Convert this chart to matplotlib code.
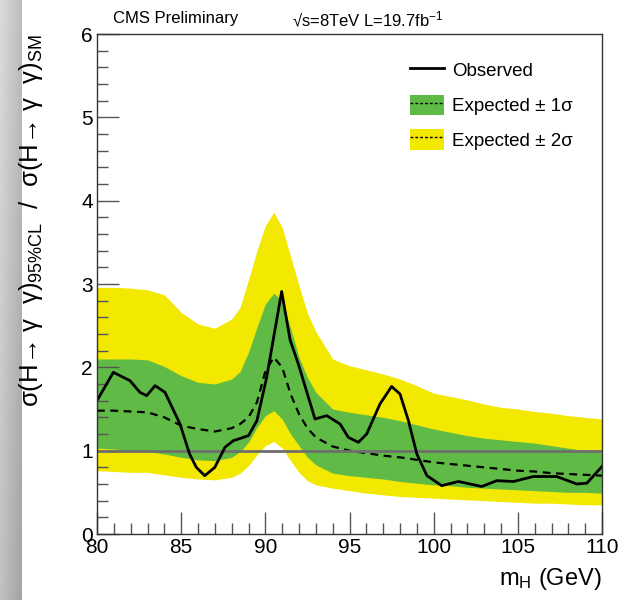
import numpy as np
import matplotlib
matplotlib.use("Agg")
import matplotlib.pyplot as plt
from matplotlib.lines import Line2D
from matplotlib.patches import Patch
from matplotlib.ticker import MultipleLocator

plt.rcParams['font.family'] = ['Liberation Sans', 'DejaVu Sans']
plt.rcParams['mathtext.fontset'] = 'custom'
plt.rcParams['mathtext.rm'] = 'Liberation Sans'
plt.rcParams['mathtext.it'] = 'Liberation Sans'
plt.rcParams['mathtext.sf'] = 'Liberation Sans'

# ---- data ----
mass_band = [80, 81, 82, 83, 84, 85, 86, 87, 88, 88.5, 89, 89.5, 90, 90.5, 91, 91.5,
             92, 92.5, 93, 94, 95, 96, 97, 98, 99, 100, 101, 102, 103, 104, 105,
             106, 107, 108, 109, 110]
exp_median = [1.48, 1.48, 1.47, 1.46, 1.40, 1.30, 1.26, 1.23, 1.27, 1.32, 1.40, 1.58,
              1.95, 2.12, 2.00, 1.68, 1.44, 1.27, 1.16, 1.05, 1.00, 0.97, 0.94, 0.92,
              0.89, 0.86, 0.84, 0.82, 0.80, 0.78, 0.76, 0.75, 0.73, 0.72, 0.71, 0.70]
exp_1sig_up = [2.10, 2.10, 2.10, 2.09, 2.01, 1.90, 1.82, 1.80, 1.86, 1.95, 2.18, 2.48,
               2.76, 2.89, 2.80, 2.47, 2.12, 1.88, 1.70, 1.50, 1.46, 1.43, 1.40, 1.36,
               1.31, 1.26, 1.22, 1.18, 1.15, 1.13, 1.11, 1.09, 1.06, 1.03, 1.00, 0.98]
exp_1sig_dn = [1.03, 1.02, 1.00, 0.99, 0.96, 0.92, 0.89, 0.88, 0.92, 0.99, 1.10, 1.28,
               1.42, 1.48, 1.38, 1.20, 1.06, 0.92, 0.83, 0.73, 0.70, 0.68, 0.66, 0.63,
               0.61, 0.59, 0.58, 0.56, 0.55, 0.54, 0.53, 0.52, 0.51, 0.50, 0.50, 0.49]
exp_2sig_up = [2.96, 2.96, 2.95, 2.93, 2.87, 2.66, 2.52, 2.47, 2.58, 2.72, 3.05, 3.40,
               3.70, 3.86, 3.68, 3.33, 2.98, 2.65, 2.43, 2.10, 2.02, 1.97, 1.92, 1.86,
               1.78, 1.69, 1.65, 1.61, 1.56, 1.52, 1.50, 1.47, 1.45, 1.42, 1.40, 1.38]
exp_2sig_dn = [0.76, 0.75, 0.74, 0.74, 0.71, 0.68, 0.66, 0.65, 0.68, 0.73, 0.82, 0.95,
               1.06, 1.11, 1.03, 0.88, 0.74, 0.64, 0.59, 0.55, 0.52, 0.49, 0.47, 0.45,
               0.44, 0.43, 0.42, 0.41, 0.40, 0.39, 0.38, 0.37, 0.37, 0.36, 0.35, 0.35]

mass_obs = [80.0, 80.97, 81.96, 82.55, 82.95, 83.45, 84.04, 84.93, 85.5, 85.9, 86.4,
            87.0, 87.6, 88.1, 89.0, 89.5, 90.08, 90.97, 91.47, 91.96, 92.95, 93.65,
            94.44, 94.93, 95.53, 96.02, 96.81, 97.5, 98.0, 98.5, 99.0, 99.6, 100.48,
            101.47, 102.16, 102.86, 103.75, 104.74, 105.92, 107.31, 108.5, 109.1, 110.0]
observed = [1.60, 1.94, 1.84, 1.70, 1.66, 1.78, 1.70, 1.32, 0.96, 0.80, 0.70,
            0.80, 1.04, 1.12, 1.18, 1.36, 1.88, 2.91, 2.33, 2.04, 1.38, 1.42,
            1.32, 1.16, 1.10, 1.20, 1.56, 1.77, 1.68, 1.36, 0.96, 0.70, 0.58,
            0.63, 0.60, 0.57, 0.64, 0.63, 0.69, 0.69, 0.60, 0.61, 0.81]

legend_labels = ["Observed", "Expected ± 1σ", "Expected ± 2σ"]

YELLOW = "#f2e800"
GREEN = "#5fbb46"

W, H = 623, 600
fig = plt.figure(figsize=(W / 100, H / 100), dpi=100)

# left gray page-edge strip
strip = fig.add_axes([0, 0, 22 / W, 1])
gx = np.linspace(0, 1, 30)
gy = np.linspace(0, 1, 200)
GX, GY = np.meshgrid(gx, gy)
shade = 0.86 - 0.12 * GX - 0.10 * GY
strip.imshow(shade, cmap="gray", vmin=0, vmax=1, aspect="auto", origin="upper",
             extent=[0, 1, 0, 1])
strip.axis("off")

ax = fig.add_axes([97 / W, 1 - 534 / H, (602 - 97) / W, (534 - 34) / H])
ax.fill_between(mass_band, exp_2sig_dn, exp_2sig_up, color=YELLOW, lw=0)
ax.fill_between(mass_band, exp_1sig_dn, exp_1sig_up, color=GREEN, lw=0)
ax.plot(mass_band, exp_median, color="black", lw=1.6, ls=(0, (3.5, 2.5)))
ax.axhline(1.0, color="#6e6e6e", lw=2.0)
ax.plot(mass_obs, observed, color="black", lw=2.0)

ax.set_xlim(80, 110)
ax.set_ylim(0, 6)
ax.xaxis.set_major_locator(MultipleLocator(5))
ax.xaxis.set_minor_locator(MultipleLocator(1))
ax.yaxis.set_major_locator(MultipleLocator(1))
ax.yaxis.set_minor_locator(MultipleLocator(0.2))
ax.tick_params(which="both", direction="in", top=False, right=False,
               colors="#555555", labelcolor="black", width=1.0)
ax.tick_params(which="major", length=16, labelsize=15, pad=3)
ax.tick_params(which="minor", length=8)
for s in ax.spines.values():
    s.set_color("#333333")
    s.set_linewidth(1.0)

ax.set_xlabel("m$_{\\mathrm{H}}$ (GeV)", fontsize=17, loc="right", labelpad=6)
ax.set_ylabel("σ(H→ γ  γ)$_{95\\%\\mathrm{CL}}$  /  σ(H→ γ  γ)$_{\\mathrm{SM}}$",
              fontsize=18.5, loc="top")
ax.yaxis.set_label_coords(-(97 - 45) / (602 - 97), 1.0)

fig.text(113 / W, 1 - 19 / H, "CMS Preliminary", fontsize=12, va="center", ha="left")
fig.text(292 / W, 1 - 19 / H, "√s=8TeV L=19.7fb$^{-1}$", fontsize=12,
         va="center", ha="left")

h_obs = Line2D([], [], color="black", lw=2.0)
h_1s = (Patch(facecolor=GREEN, edgecolor="none"),
        Line2D([], [], color="black", lw=1.0, ls=(0, (2, 1.5))))
h_2s = (Patch(facecolor=YELLOW, edgecolor="none"),
        Line2D([], [], color="black", lw=1.0, ls=(0, (2, 1.5))))
ax.legend([h_obs, h_1s, h_2s], legend_labels, frameon=False, fontsize=13.5,
          loc="upper left", bbox_to_anchor=(410 / W, 1 - 60 / H),
          bbox_transform=fig.transFigure, handlelength=1.8, handleheight=1.3,
          handletextpad=0.45, labelspacing=0.75, borderpad=0, borderaxespad=0)

fig.savefig("out.png", dpi=100)
